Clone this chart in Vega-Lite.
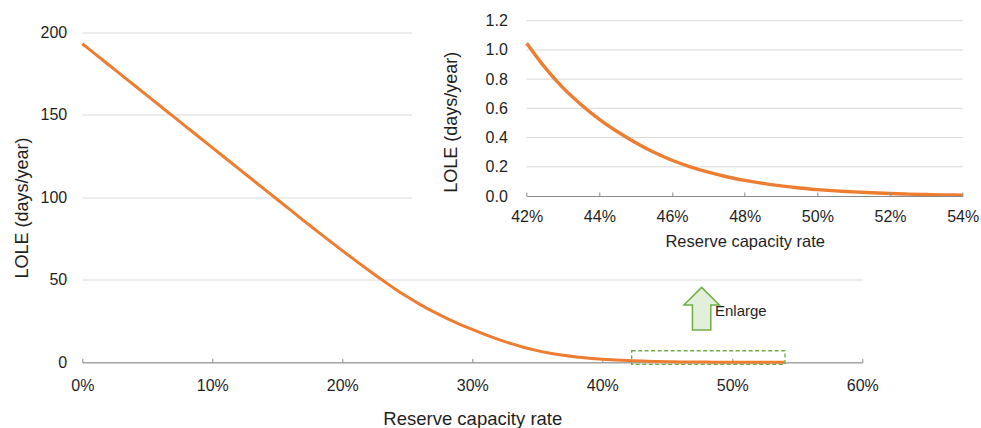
{
  "$schema": "https://vega.github.io/schema/vega-lite/v6.json",
  "width": 780,
  "height": 329.8,
  "autosize": {"type": "none"},
  "padding": {"left": 82.3, "top": 32.5, "right": 118.7, "bottom": 65.7},
  "background": "white",
  "config": {
    "font": "Liberation Sans",
    "view": {"stroke": null},
    "axis": {
      "labelColor": "#1f1f1f",
      "titleColor": "#1f1f1f",
      "titleFontWeight": "normal",
      "domainColor": "#8a8a8a",
      "tickColor": "#8a8a8a",
      "gridColor": "#d9d9d9",
      "labelFontSize": 16,
      "labelFlush": false,
      "labelOverlap": false,
      "labelBound": false
    }
  },
  "datasets": {
    "main": [
      {"x": 0, "y": 193.2}, {"x": 0.01, "y": 186.9}, {"x": 0.02, "y": 180.6}, {"x": 0.03, "y": 174.3},
      {"x": 0.04, "y": 168.0}, {"x": 0.05, "y": 161.7}, {"x": 0.06, "y": 155.4}, {"x": 0.07, "y": 149.1},
      {"x": 0.08, "y": 142.8}, {"x": 0.09, "y": 136.5}, {"x": 0.10, "y": 130.2}, {"x": 0.11, "y": 123.9},
      {"x": 0.12, "y": 117.6}, {"x": 0.13, "y": 111.3}, {"x": 0.14, "y": 105.0}, {"x": 0.15, "y": 98.7},
      {"x": 0.16, "y": 92.4}, {"x": 0.17, "y": 86.1}, {"x": 0.18, "y": 79.9}, {"x": 0.19, "y": 73.75},
      {"x": 0.20, "y": 67.7}, {"x": 0.21, "y": 61.8}, {"x": 0.22, "y": 56.0}, {"x": 0.23, "y": 50.3},
      {"x": 0.24, "y": 44.8}, {"x": 0.25, "y": 39.7}, {"x": 0.26, "y": 35.0}, {"x": 0.27, "y": 30.7},
      {"x": 0.28, "y": 26.8}, {"x": 0.29, "y": 23.2}, {"x": 0.30, "y": 19.9}, {"x": 0.31, "y": 16.8},
      {"x": 0.32, "y": 13.9}, {"x": 0.33, "y": 11.3}, {"x": 0.34, "y": 9.0}, {"x": 0.35, "y": 7.1},
      {"x": 0.36, "y": 5.5}, {"x": 0.37, "y": 4.25}, {"x": 0.38, "y": 3.25}, {"x": 0.39, "y": 2.5},
      {"x": 0.40, "y": 1.9}, {"x": 0.41, "y": 1.42}, {"x": 0.42, "y": 1.046}, {"x": 0.43, "y": 0.74},
      {"x": 0.44, "y": 0.525}, {"x": 0.45, "y": 0.365}, {"x": 0.46, "y": 0.245}, {"x": 0.47, "y": 0.163},
      {"x": 0.48, "y": 0.107}, {"x": 0.49, "y": 0.069}, {"x": 0.50, "y": 0.044}, {"x": 0.51, "y": 0.028},
      {"x": 0.52, "y": 0.017}, {"x": 0.53, "y": 0.010}, {"x": 0.54, "y": 0.006}
    ],
    "inset": [
      {"x": 0.42, "y": 1.046}, {"x": 0.425, "y": 0.88}, {"x": 0.43, "y": 0.74}, {"x": 0.435, "y": 0.625},
      {"x": 0.44, "y": 0.525}, {"x": 0.445, "y": 0.44}, {"x": 0.45, "y": 0.365}, {"x": 0.455, "y": 0.30},
      {"x": 0.46, "y": 0.245}, {"x": 0.465, "y": 0.20}, {"x": 0.47, "y": 0.163}, {"x": 0.475, "y": 0.132},
      {"x": 0.48, "y": 0.107}, {"x": 0.485, "y": 0.086}, {"x": 0.49, "y": 0.069}, {"x": 0.495, "y": 0.055},
      {"x": 0.50, "y": 0.044}, {"x": 0.505, "y": 0.035}, {"x": 0.51, "y": 0.028}, {"x": 0.515, "y": 0.022},
      {"x": 0.52, "y": 0.017}, {"x": 0.525, "y": 0.013}, {"x": 0.53, "y": 0.010}, {"x": 0.535, "y": 0.008},
      {"x": 0.54, "y": 0.006}
    ],
    "insetGrid": [
      {"x": 0.42, "x2": 0.54, "y": 0.2}, {"x": 0.42, "x2": 0.54, "y": 0.4}, {"x": 0.42, "x2": 0.54, "y": 0.6},
      {"x": 0.42, "x2": 0.54, "y": 0.8}, {"x": 0.42, "x2": 0.54, "y": 1.0}, {"x": 0.42, "x2": 0.54, "y": 1.2}
    ],
    "panel": [{"x": 0.2536, "x2": 0.691, "y": 65, "y2": 220}],
    "zoomBox": [{"x": 0.4226, "x2": 0.5405, "y": -1.2, "y2": 7.0}],
    "arrow": [{"x": 0.4764, "y": 32.5}],
    "label": [{"x": 0.4867, "y": 28.1, "t": "Enlarge"}]
  },
  "layer": [
    {
      "layer": [
        {
          "data": {"name": "panel"},
          "mark": {"type": "rect", "fill": "white", "stroke": null},
          "encoding": {
            "x": {"field": "x", "type": "quantitative"},
            "x2": {"field": "x2"},
            "y": {"field": "y", "type": "quantitative"},
            "y2": {"field": "y2"}
          }
        },
        {
          "data": {"name": "main"},
          "mark": {"type": "line", "color": "#ed7d31", "strokeWidth": 3, "interpolate": "monotone"},
          "encoding": {
            "x": {
              "field": "x", "type": "quantitative",
              "scale": {"domain": [0, 0.6], "nice": false, "zero": false},
              "axis": {
                "orient": "bottom",
                "values": [0, 0.1, 0.2, 0.3, 0.4, 0.5, 0.6],
                "format": ".0%",
                "title": "Reserve capacity rate",
                "titleFontSize": 18.5,
                "titleBaseline": "alphabetic",
                "titleY": 61.7,
                "labelPadding": 19,
                "tickSize": -4,
                "grid": false
              }
            },
            "y": {
              "field": "y", "type": "quantitative",
              "scale": {"domain": [0, 200], "nice": false},
              "axis": {
                "orient": "left",
                "values": [0, 50, 100, 150, 200],
                "title": "LOLE (days/year)",
                "titleFontSize": 18,
                "titleBaseline": "alphabetic",
                "titleAngle": 270,
                "titleX": -54.6,
                "titleY": 175,
                "domain": false,
                "ticks": false,
                "labelPadding": 15.6,
                "grid": true
              }
            }
          }
        },
        {
          "data": {"name": "zoomBox"},
          "mark": {"type": "rect", "filled": false, "color": "#70ad47", "strokeWidth": 1.3, "strokeDash": [4, 2.5]},
          "encoding": {
            "x": {"field": "x", "type": "quantitative"},
            "x2": {"field": "x2"},
            "y": {"field": "y", "type": "quantitative"},
            "y2": {"field": "y2"}
          }
        },
        {
          "data": {"name": "arrow"},
          "mark": {
            "type": "point",
            "shape": "M0,-1 L0.83,-0.17 L0.43,-0.17 L0.43,1 L-0.43,1 L-0.43,-0.17 L-0.83,-0.17 Z",
            "size": 1823,
            "filled": true,
            "fill": "#e2efda",
            "stroke": "#70ad47",
            "strokeWidth": 1.5,
            "opacity": 1
          },
          "encoding": {
            "x": {"field": "x", "type": "quantitative"},
            "y": {"field": "y", "type": "quantitative"}
          }
        },
        {
          "data": {"name": "label"},
          "mark": {"type": "text", "align": "left", "baseline": "alphabetic", "fontSize": 15, "color": "#1f1f1f"},
          "encoding": {
            "x": {"field": "x", "type": "quantitative"},
            "y": {"field": "y", "type": "quantitative"},
            "text": {"field": "t"}
          }
        }
      ]
    },
    {
      "layer": [
        {
          "data": {"name": "insetGrid"},
          "mark": {"type": "rule", "color": "#d9d9d9", "strokeWidth": 1},
          "encoding": {
            "x": {"field": "x", "type": "quantitative"},
            "x2": {"field": "x2"},
            "y": {"field": "y", "type": "quantitative"}
          }
        },
        {
          "data": {"name": "inset"},
          "mark": {"type": "line", "color": "#ed7d31", "strokeWidth": 3.4, "interpolate": "monotone"},
          "encoding": {
            "x": {
              "field": "x", "type": "quantitative",
              "scale": {"domain": [0.42, 0.54], "range": [444.4, 880.4], "nice": false, "zero": false},
              "axis": {
                "orient": "bottom",
                "offset": -166.3,
                "values": [0.42, 0.44, 0.46, 0.48, 0.5, 0.52, 0.54],
                "format": ".0%",
                "title": "Reserve capacity rate",
                "titleFontSize": 16.5,
                "titleBaseline": "alphabetic",
                "titleY": 50.7,
                "labelPadding": 16.8,
                "tickSize": -4,
                "grid": false,
                "zindex": 1
              }
            },
            "y": {
              "field": "y", "type": "quantitative",
              "scale": {"domain": [0, 1.2], "range": [163.5, -11.8], "nice": false, "zero": false},
              "axis": {
                "orient": "left",
                "offset": -444.4,
                "values": [0, 0.2, 0.4, 0.6, 0.8, 1.0, 1.2],
                "format": ".1f",
                "title": "LOLE (days/year)",
                "titleFontSize": 18,
                "titleBaseline": "alphabetic",
                "titleAngle": 270,
                "titleX": -70.7,
                "titleY": 89.2,
                "domain": false,
                "ticks": false,
                "labelPadding": 19.4,
                "grid": false,
                "zindex": 1
              }
            }
          }
        }
      ]
    }
  ],
  "resolve": {
    "scale": {"x": "independent", "y": "independent"},
    "axis": {"x": "independent", "y": "independent"}
  }
}
